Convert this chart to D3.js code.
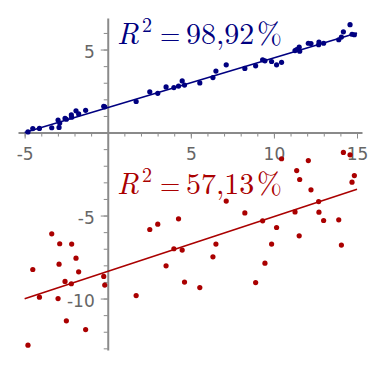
<!DOCTYPE html>
<html>
<head>
<meta charset="utf-8" />
<title>R2 scatter</title>
<script src="https://d3js.org/d3.v7.min.js"></script>
<style>
  body { margin: 0; background: #fff; }
  svg { display: block; }
  .axis path, .axis line { stroke: #8a8a8a; }
  .axis text { fill: #666; font-family: "DejaVu Sans", sans-serif; font-size: 17px; }
</style>
</head>
<body>
<div id="chart"></div>
<script>
// shared x values for both samples
var xs = [-4.8, -4.51, -4.11, -3.37, -2.99, -2.93, -2.89, -2.57, -2.49, -2.19,
          -2.17, -1.91, -1.75, -1.33, -0.24, -0.18, 1.71, 2.53, 3.01, 3.51,
          3.98, 4.26, 4.48, 4.62, 5.54, 6.33, 6.51, 7.13, 8.25, 8.9,
          9.32, 9.46, 9.86, 10.16, 10.46, 11.27, 11.37, 11.52, 11.55, 12.07,
          12.23, 12.69, 12.71, 12.99, 13.9, 14.06, 14.18, 14.58, 14.7, 14.84];
// good fit sample (blue)
var goodY = [0.04, 0.24, 0.25, 0.29, 0.75, 0.31, 0.57, 0.85, 0.8, 1.06,
             0.92, 1.31, 1.12, 1.34, 1.58, 1.55, 1.87, 2.45, 2.36, 2.75,
             2.71, 2.8, 3.11, 2.86, 2.99, 3.31, 3.7, 4.08, 3.86, 4.02,
             4.38, 4.32, 4.28, 4.08, 4.23, 4.94, 5.0, 5.14, 4.9, 5.38,
             5.36, 5.29, 5.45, 5.38, 5.59, 5.75, 6.07, 6.5, 5.92, 5.89];
// poor fit sample (red)
var badY = [-12.81, -8.25, -9.92, -6.1, -10.0, -7.93, -6.7, -8.97, -11.34, -9.11,
            -6.72, -7.57, -8.39, -11.87, -8.67, -9.19, -9.82, -5.84, -5.52, -8.03,
            -7.0, -5.2, -7.08, -9.01, -9.34, -7.49, -6.72, -4.13, -4.84, -9.04,
            -5.32, -7.87, -6.72, -5.72, -1.58, -4.78, -2.29, -6.22, -2.83, -1.69,
            -3.45, -4.16, -4.8, -5.3, -5.26, -6.78, -1.2, -1.34, -2.99, -2.59];

var goodFit = [1.5, 0.3];     // intercept, slope
var badFit = [-8.36, 0.33];
var fitRange = [-5, 15];

var xMajor = [-5, 5, 10, 15];
var yMajor = [-10, -5, 5];
var xMinor = d3.range(-5, 16).filter(function(d) { return d !== 0; });
var yMinor = d3.range(-13, 7).filter(function(d) { return d !== 0; });

var goodLabel = "98,92";
var badLabel = "57,13";

var blue = "#000080", red = "#aa0000";

var width = 380, height = 370;
var svg = d3.select("#chart").append("svg")
    .attr("width", width)
    .attr("height", height);

var x = d3.scaleLinear().domain([-5.4, 15.3]).range([18, 362]);
var y = d3.scaleLinear().domain([-13.1, 6.9]).range([350, 18]);

// x axis through origin
svg.append("g").attr("class", "axis")
    .attr("transform", "translate(0," + y(0) + ")")
    .call(d3.axisBottom(x).tickValues(xMinor).tickSize(4).tickSizeOuter(0).tickFormat(""))
    .select(".domain").attr("stroke-width", 2);
svg.append("g").attr("class", "axis")
    .attr("transform", "translate(0," + y(0) + ")")
    .call(d3.axisBottom(x).tickValues(xMajor).tickSize(6).tickPadding(9)
          .tickFormat(function(d) { return String(d); }))
    .call(function(g) { g.select(".domain").remove(); });

// y axis through origin
svg.append("g").attr("class", "axis")
    .attr("transform", "translate(" + x(0) + ",0)")
    .call(d3.axisLeft(y).tickValues(yMinor).tickSize(4).tickSizeOuter(0).tickFormat(""))
    .select(".domain").attr("stroke-width", 2);
svg.append("g").attr("class", "axis")
    .attr("transform", "translate(" + x(0) + ",0)")
    .call(d3.axisLeft(y).tickValues(yMajor).tickSize(7).tickPadding(6)
          .tickFormat(function(d) { return String(d); }))
    .call(function(g) {
      g.select(".domain").remove();
      g.selectAll("text").attr("dy", "0.44em");
    });

// R^2 labels, LaTeX look
function r2(label, baseline, color) {
  var t = svg.append("text")
      .attr("y", baseline)
      .attr("fill", color)
      .attr("font-family", "Latin Modern Roman, Liberation Serif, serif")
      .attr("font-size", 30);
  t.append("tspan").attr("x", 117).attr("font-style", "italic").text("R");
  t.append("tspan").attr("x", 142).attr("dy", -12).attr("font-size", 20).text("2");
  t.append("tspan").attr("x", 160).attr("dy", 12).attr("font-size", 26).text("=");
  t.append("tspan").attr("x", 186).text(label);
  t.append("tspan").attr("x", 257).text("%");
}
r2(goodLabel, 43.5, blue);
r2(badLabel, 193.5, red);

// fit lines
function fitLine(fit, color) {
  svg.append("line")
      .attr("x1", x(fitRange[0])).attr("y1", y(fit[0] + fit[1] * fitRange[0]))
      .attr("x2", x(fitRange[1])).attr("y2", y(fit[0] + fit[1] * fitRange[1]))
      .attr("stroke", color)
      .attr("stroke-width", 1.6);
}
fitLine(goodFit, blue);
fitLine(badFit, red);

// points
function dots(ys, color) {
  svg.append("g").selectAll("circle")
      .data(xs)
      .enter()
      .append("circle")
      .attr("cx", function(d) { return x(d); })
      .attr("cy", function(d, i) { return y(ys[i]); })
      .attr("r", 2.6)
      .attr("fill", color);
}
dots(goodY, blue);
dots(badY, red);
</script>
</body>
</html>
